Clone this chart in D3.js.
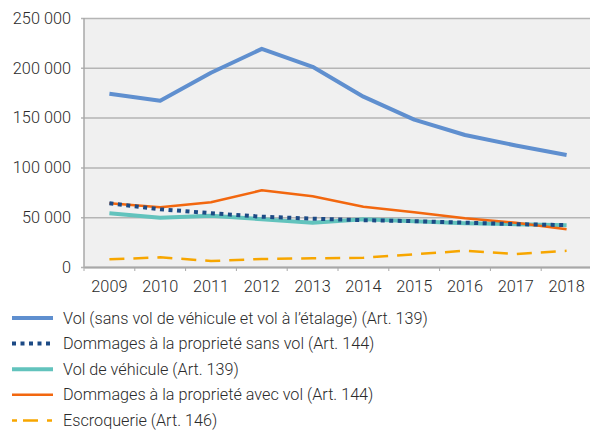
<!DOCTYPE html>
<html>
<head>
<meta charset="utf-8">
<script src="https://cdn.jsdelivr.net/npm/d3@7"></script>
<style>
  body { margin: 0; background: #fff; }
  text { font-family: Roboto, "Noto Sans", sans-serif; font-weight: 300; fill: #2b2b2b; }
</style>
</head>
<body>
<div id="chart"></div>
<script>
var years = ["2009", "2010", "2011", "2012", "2013", "2014", "2015", "2016", "2017", "2018"];
var yTicks = [0, 50000, 100000, 150000, 200000, 250000];

var volSansVehicule = [174000, 167000, 195000, 219000, 201000, 171000, 148000, 132500, 122000, 112500];
var dommagesSansVol = [64000, 58000, 54000, 50500, 48500, 47000, 46000, 44500, 43000, 42000];
var volVehicule = [54000, 49500, 51500, 48000, 44500, 48000, 46000, 44000, 43000, 42000];
var dommagesAvecVol = [64000, 60000, 65000, 77000, 71000, 60500, 55000, 49000, 44500, 38000];
var escroquerie = [7700, 9700, 6000, 8000, 8700, 9300, 12700, 16300, 13000, 16300];

var seriesNames = [
  "Vol (sans vol de véhicule et vol à l’étalage) (Art. 139)",
  "Dommages à la proprieté sans vol (Art. 144)",
  "Vol de véhicule (Art. 139)",
  "Dommages à la proprieté avec vol (Art. 144)",
  "Escroquerie (Art. 146)"
];

// drawing order (bottom to top)
var series = [
  { name: seriesNames[0], values: volSansVehicule, color: "#5f8fcf", width: 4, dash: null, legendDash: null },
  { name: seriesNames[2], values: volVehicule, color: "#62c3bd", width: 4, dash: null, legendDash: null },
  { name: seriesNames[3], values: dommagesAvecVol, color: "#f2670f", width: 2.5, dash: null, legendDash: null },
  { name: seriesNames[1], values: dommagesSansVol, color: "#1c4a85", width: 4, dash: "4,4.5", legendDash: "4,4.5" },
  { name: seriesNames[4], values: escroquerie, color: "#f7a600", width: 2.5, dash: "15,9", legendDash: "5,6,15,9" }
];

var svgWidth = 590, svgHeight = 434;
var margin = { top: 18, right: -2, bottom: 167, left: 84 };
var width = svgWidth - margin.left - margin.right;
var height = svgHeight - margin.top - margin.bottom;

var svg = d3.select("#chart").append("svg")
  .attr("width", svgWidth)
  .attr("height", svgHeight);

var chartGroup = svg.append("g")
  .attr("transform", `translate(${margin.left}, ${margin.top})`);

var x = d3.scaleBand().domain(years).range([0, width]);
var y = d3.scaleLinear().domain([0, 250000]).range([height, 0]);

// background
chartGroup.append("rect")
  .attr("width", width)
  .attr("height", height)
  .attr("fill", "#f0f0f0");

// gridlines + y labels
var fmt = function(d) { return d3.format(",")(d).replace(/,/g, " "); };
chartGroup.append("g")
  .call(d3.axisLeft(y).tickValues(yTicks).tickSize(-width - 3).tickFormat(fmt).tickPadding(13))
  .call(g => g.select(".domain").remove())
  .call(g => g.selectAll(".tick line").attr("stroke", "#b5b5b5").attr("stroke-width", 1.5).attr("transform", "translate(-3,0)").attr("x2", width + 3))
  .call(g => g.selectAll(".tick text").attr("font-size", 16.3).attr("fill", "#2b2b2b"));

// y axis line
chartGroup.append("line")
  .attr("x1", 0).attr("x2", 0).attr("y1", 0).attr("y2", height)
  .attr("stroke", "#a8a8a8").attr("stroke-width", 1.5);

// x axis
var xAxis = chartGroup.append("g")
  .attr("transform", `translate(0, ${height})`)
  .call(d3.axisBottom(x).tickSize(0).tickPadding(13));
xAxis.select(".domain").attr("stroke", "#a8a8a8").attr("stroke-width", 2);
xAxis.selectAll(".tick text").attr("font-size", 16.3).attr("fill", "#2b2b2b");

// tick marks at band boundaries
chartGroup.selectAll("line.xtick")
  .data(years)
  .enter()
  .append("line")
  .attr("class", "xtick")
  .attr("x1", d => x(d)).attr("x2", d => x(d))
  .attr("y1", height).attr("y2", height + 4)
  .attr("stroke", "#a8a8a8").attr("stroke-width", 1);

var line = d3.line()
  .x((d, i) => x(years[i]) + x.bandwidth() / 2)
  .y(d => y(d));

chartGroup.selectAll("path.series")
  .data(series)
  .enter()
  .append("path")
  .attr("class", "series")
  .attr("d", d => line(d.values))
  .attr("fill", "none")
  .attr("stroke", d => d.color)
  .attr("stroke-width", d => d.width)
  .attr("stroke-dasharray", d => d.dash)
  .attr("stroke-linejoin", "round");

// legend, in the order of seriesNames
var legend = svg.append("g").attr("transform", "translate(12, 318)");
var items = legend.selectAll("g")
  .data(seriesNames.map(n => series.find(s => s.name === n)))
  .enter()
  .append("g")
  .attr("transform", (d, i) => `translate(0, ${i * 25.6})`);

items.append("line")
  .attr("x1", 0).attr("x2", 41)
  .attr("stroke", d => d.color)
  .attr("stroke-width", d => d.width)
  .attr("stroke-dasharray", d => d.legendDash);

items.append("text")
  .attr("x", 51)
  .attr("dy", "0.35em")
  .attr("font-size", 16.2)
  .attr("fill", "#2b2b2b")
  .text(d => d.name);
</script>
</body>
</html>
